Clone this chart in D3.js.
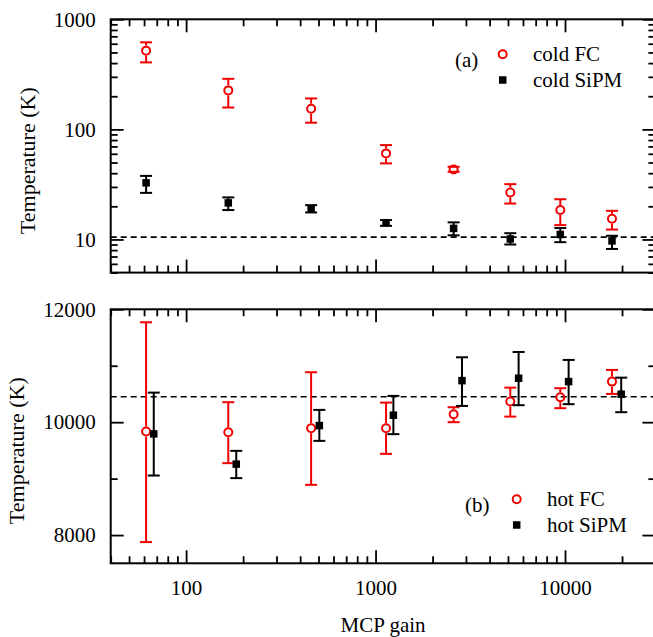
<!DOCTYPE html>
<html>
<head>
<meta charset="utf-8">
<script src="https://cdn.jsdelivr.net/npm/d3@7"></script>
<style>
  body { margin: 0; background: #fff; }
  svg text { font-family: "Liberation Serif", "Times New Roman", Times, "DejaVu Serif"; }
</style>
</head>
<body>
<script>
// MCP gain values (x) for each measurement
const gain = [61.5, 167, 457, 1136, 2583, 5143, 9444, 17700];
const gainHotSiPM = [67.5, 184, 505, 1242, 2860, 5690, 10450, 19800];

// panel (a): cold temperatures (K)
const coldFC = [519, 226, 154, 60.5, 43.3, 26.7, 18.5, 15.4];
const coldFCLo = [406, 158, 115, 49.1, 41.2, 21.2, 13.5, 12.3];
const coldFCHi = [618, 288, 191, 72, 45.7, 31.8, 23.2, 18.2];
const coldSiPM = [32.7, 21.5, 19.0, 14.2, 12.6, 10.1, 11.1, 9.7];
const coldSiPMLo = [26.5, 18.5, 17.6, 13.3, 10.9, 9.0, 9.45, 8.2];
const coldSiPMHi = [37.8, 24.1, 20.5, 15.0, 14.3, 11.4, 12.7, 10.8];
const coldRef = 10.5;

// panel (b): hot temperatures (K)
const hotFC = [9834, 9823, 9894, 9894, 10142, 10365, 10442, 10719];
const hotFCLo = [7876, 9274, 8890, 9439, 10000, 10099, 10248, 10501];
const hotFCHi = [11770, 10354, 10885, 10347, 10265, 10612, 10602, 10926];
const hotSiPM = [9793, 9257, 9940, 10124, 10736, 10779, 10719, 10496];
const hotSiPMLo = [9055, 9009, 9669, 9788, 10288, 10301, 10319, 10177];
const hotSiPMHi = [10524, 9492, 10218, 10466, 11150, 11244, 11103, 10789];
const hotRef = 10450;

// ticks
const xMajor = [100, 1000, 10000];
const yTopMajor = [10, 100, 1000];
const yBotMajor = [8000, 10000, 12000];

const FONT = '"Liberation Serif", "Times New Roman", Times, "DejaVu Serif"';
const RED = "#f00000";
const FS = "21px";

const W = 653, H = 637;
const left = 110.7, right = 655.4;
const topA = 19.3, botA = 272.6;
const topB = 309.3, botB = 563.3;

let svg = d3.select("body")
  .append("svg")
  .attr("width", W)
  .attr("height", H);

svg.append("rect").attr("width", W).attr("height", H).attr("fill", "#fff");

const x = d3.scaleLog().domain([40, 30000]).range([left, right]);
const yA = d3.scaleLog().domain([5, 1000]).range([botA, topA]);
const yB = d3.scaleLinear().domain([7500, 12000]).range([botB, topB]);

const xMinor = x.ticks().filter(d => !xMajor.includes(d));
const yAMinor = yA.ticks().filter(d => !yTopMajor.includes(d));
const yBMinor = yB.ticks(5).filter(d => !yBotMajor.includes(d));

function styleAxis(g) {
  g.select(".domain").remove();
  g.selectAll("line").attr("stroke", "#000").attr("stroke-width", 1.8);
  g.attr("font-family", null);
  g.selectAll("text")
    .style("font-family", FONT)
    .style("font-size", FS)
    .attr("fill", "#000");
}

// draw major + minor ticks on all four sides of a panel
function drawFrameAxes(y, yMajor, yMinor, top, bot, showX) {
  let fmt = d3.format("d");

  // bottom
  svg.append("g").attr("transform", `translate(0,${bot})`)
    .call(d3.axisBottom(x).tickValues(xMajor).tickSize(-13).tickSizeOuter(0)
      .tickPadding(17).tickFormat(showX ? fmt : ""))
    .call(styleAxis);
  svg.append("g").attr("transform", `translate(0,${bot})`)
    .call(d3.axisBottom(x).tickValues(xMinor).tickSize(-7).tickSizeOuter(0).tickFormat(""))
    .call(styleAxis);
  // top
  svg.append("g").attr("transform", `translate(0,${top})`)
    .call(d3.axisTop(x).tickValues(xMajor).tickSize(-13).tickSizeOuter(0).tickFormat(""))
    .call(styleAxis);
  svg.append("g").attr("transform", `translate(0,${top})`)
    .call(d3.axisTop(x).tickValues(xMinor).tickSize(-7).tickSizeOuter(0).tickFormat(""))
    .call(styleAxis);
  // left
  svg.append("g").attr("transform", `translate(${left},0)`)
    .call(d3.axisLeft(y).tickValues(yMajor).tickSize(-13).tickSizeOuter(0)
      .tickPadding(15).tickFormat(fmt))
    .call(styleAxis);
  svg.append("g").attr("transform", `translate(${left},0)`)
    .call(d3.axisLeft(y).tickValues(yMinor).tickSize(-7).tickSizeOuter(0).tickFormat(""))
    .call(styleAxis);
  // right
  svg.append("g").attr("transform", `translate(${right},0)`)
    .call(d3.axisRight(y).tickValues(yMajor).tickSize(-13).tickSizeOuter(0).tickFormat(""))
    .call(styleAxis);
  svg.append("g").attr("transform", `translate(${right},0)`)
    .call(d3.axisRight(y).tickValues(yMinor).tickSize(-7).tickSizeOuter(0).tickFormat(""))
    .call(styleAxis);

  svg.append("rect")
    .attr("x", left).attr("y", top)
    .attr("width", right - left).attr("height", bot - top)
    .attr("fill", "none").attr("stroke", "#000").attr("stroke-width", 2);
}

function refLine(y, v) {
  svg.append("line")
    .attr("x1", left).attr("x2", right)
    .attr("y1", y(v)).attr("y2", y(v))
    .attr("stroke", "#000").attr("stroke-width", 1.6)
    .attr("stroke-dasharray", "6,4");
}

// error bars drawn outside the marker, caps always shown
function errorBars(xs, ys, lo, hi, y, colour, gap) {
  const cap = 6;
  for (let i = 0; i < xs.length; i++) {
    let cx = x(xs[i]), cy = y(ys[i]);
    let yh = y(hi[i]), yl = y(lo[i]);
    if (yh < cy - gap) {
      svg.append("line").attr("x1", cx).attr("x2", cx).attr("y1", yh).attr("y2", cy - gap)
        .attr("stroke", colour).attr("stroke-width", 2);
    }
    if (yl > cy + gap) {
      svg.append("line").attr("x1", cx).attr("x2", cx).attr("y1", cy + gap).attr("y2", yl)
        .attr("stroke", colour).attr("stroke-width", 2);
    }
    [yh, yl].forEach(v => {
      svg.append("line").attr("x1", cx - cap).attr("x2", cx + cap).attr("y1", v).attr("y2", v)
        .attr("stroke", colour).attr("stroke-width", 2);
    });
  }
}

function circles(xs, ys, y) {
  svg.append("g").selectAll("circle")
    .data(xs.map((d, i) => [d, ys[i]]))
    .join("circle")
    .attr("cx", d => x(d[0]))
    .attr("cy", d => y(d[1]))
    .attr("r", 4)
    .attr("fill", "none")
    .attr("stroke", RED)
    .attr("stroke-width", 2);
}

function squares(xs, ys, y) {
  const s = 7.5;
  svg.append("g").selectAll("rect")
    .data(xs.map((d, i) => [d, ys[i]]))
    .join("rect")
    .attr("x", d => x(d[0]) - s / 2)
    .attr("y", d => y(d[1]) - s / 2)
    .attr("width", s).attr("height", s)
    .attr("fill", "#000");
}

function text(tx, ty, str, anchor) {
  return svg.append("text")
    .attr("x", tx).attr("y", ty)
    .attr("text-anchor", anchor || "start")
    .style("font-family", FONT)
    .style("font-size", FS)
    .attr("fill", "#000")
    .text(str);
}

function legend(lx, ly, label1, label2, tagX, tag) {
  svg.append("circle").attr("cx", lx).attr("cy", ly).attr("r", 4)
    .attr("fill", "none").attr("stroke", RED).attr("stroke-width", 2);
  svg.append("rect").attr("x", lx - 3.75).attr("y", ly + 25.7 - 3.75)
    .attr("width", 7.5).attr("height", 7.5).attr("fill", "#000");
  text(lx + 30.3, ly + 7, label1);
  text(lx + 30.3, ly + 32.7, label2);
  text(tagX, ly + 13, tag);
}

// panel (a)
refLine(yA, coldRef);
errorBars(gain, coldFC, coldFCLo, coldFCHi, yA, RED, 5);
circles(gain, coldFC, yA);
errorBars(gain, coldSiPM, coldSiPMLo, coldSiPMHi, yA, "#000", 0);
squares(gain, coldSiPM, yA);
drawFrameAxes(yA, yTopMajor, yAMinor, topA, botA, false);
legend(502.7, 54.3, "cold FC", "cold SiPM", 455, "(a)");

// panel (b)
refLine(yB, hotRef);
errorBars(gain, hotFC, hotFCLo, hotFCHi, yB, RED, 5);
circles(gain, hotFC, yB);
errorBars(gainHotSiPM, hotSiPM, hotSiPMLo, hotSiPMHi, yB, "#000", 0);
squares(gainHotSiPM, hotSiPM, yB);
drawFrameAxes(yB, yBotMajor, yBMinor, topB, botB, true);
legend(516.7, 499.3, "hot FC", "hot SiPM", 465, "(b)");

// axis titles
text((left + right) / 2, 632, "MCP gain", "middle");
text(0, 0, "Temperature (K)", "middle")
  .attr("transform", "translate(35,160.7) rotate(-90)")
  .style("font-size", "22px");
text(0, 0, "Temperature (K)", "middle")
  .attr("transform", "translate(24,450.7) rotate(-90)")
  .style("font-size", "22px");
</script>
</body>
</html>
